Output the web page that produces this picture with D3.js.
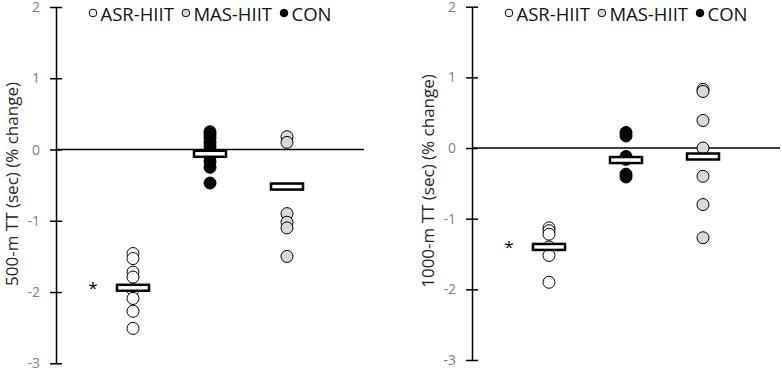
<!doctype html>
<html lang="en">
<head>
<meta charset="utf-8">
<title>TT % change</title>
<script src="https://d3js.org/d3.v7.min.js"></script>
<style>
  body { margin: 0; background: #fff; }
  text { font-family: "Open Sans", sans-serif; }
</style>
</head>
<body>
<script>
// groups in plotting order (left to right)
const groups = ["ASR-HIIT", "CON", "MAS-HIIT"];
const legendOrder = ["ASR-HIIT", "MAS-HIIT", "CON"];
const yTicks = [2, 1, 0, -1, -2, -3];

// 500-m TT (% change), individual values
const tt500ASR = [-1.46, -1.53, -1.72, -1.79, -1.97, -2.09, -2.27, -2.51];
const tt500CON = [0.25, 0.21, 0.16, 0.1, 0.04, -0.1, -0.17, -0.25, -0.47];
const tt500MAS = [0.18, 0.1, -0.9, -1.02, -1.1, -1.5];
const tt500Mean = [-1.94, -0.06, -0.52];

// 1000-m TT (% change), individual values
const tt1000ASR = [-1.13, -1.17, -1.22, -1.40, -1.52, -1.90];
const tt1000CON = [0.22, 0.17, -0.12, -0.16, -0.37, -0.41];
const tt1000MAS = [0.83, 0.80, 0.39, 0.0, -0.40, -0.80, -1.27];
const tt1000Mean = [-1.40, -0.17, -0.12];

const fills = { "ASR-HIIT": "#ffffff", "MAS-HIIT": "#d9d9d9", "CON": "#000000" };

const svg = d3.select("body").append("svg")
    .attr("width", 782)
    .attr("height", 370);

function drawPanel(opt) {
    const y = d3.scaleLinear().domain([-3, 2]).range([opt.bottom, opt.top]);
    const x = d3.scalePoint().domain(groups).range([opt.axisX + 77, opt.axisX + 231]);
    const g = svg.append("g");

    // zero line
    g.append("line")
        .attr("x1", opt.axisX).attr("x2", opt.axisX + 308)
        .attr("y1", y(0)).attr("y2", y(0))
        .attr("stroke", "#000").attr("stroke-width", 1.3);

    // y axis, ticks crossing the line
    const ax = g.append("g")
        .attr("transform", "translate(" + opt.axisX + ",0)")
        .call(d3.axisLeft(y).tickValues(yTicks)
            .tickFormat(function (d) { return String(d); })
            .tickSizeInner(6).tickSizeOuter(0).tickPadding(10));
    ax.select(".domain").attr("stroke", "#000").attr("stroke-width", 1.5);
    ax.selectAll(".tick line").attr("x1", 6).attr("stroke", "#000").attr("stroke-width", 1.5);
    ax.selectAll(".tick text")
        .attr("fill", "#808080")
        .style("font-size", "14px")
        .style("font-family", "'Open Sans', sans-serif");

    // axis title
    g.append("text")
        .attr("transform", "translate(" + (opt.axisX - 45) + "," + opt.labelY + ") rotate(-90)")
        .attr("text-anchor", "middle")
        .attr("dominant-baseline", "central")
        .attr("fill", "#262626")
        .style("font-size", "17px")
        .text(opt.title);

    // individual points
    groups.forEach(function (grp) {
        g.selectAll(null)
            .data(opt.values[grp])
            .enter()
            .append("circle")
            .attr("cx", x(grp))
            .attr("cy", function (d) { return y(d); })
            .attr("r", 6)
            .attr("fill", fills[grp])
            .attr("stroke", "#000")
            .attr("stroke-width", 1);
    });

    // group means
    g.selectAll(null)
        .data(opt.means)
        .enter()
        .append("rect")
        .attr("x", function (d, i) { return x(groups[i]) - 16; })
        .attr("y", function (d) { return y(d) - 3; })
        .attr("width", 32)
        .attr("height", 6)
        .attr("fill", "#fff")
        .attr("stroke", "#000")
        .attr("stroke-width", 2.5);

    // significance mark
    g.append("text")
        .attr("x", x("ASR-HIIT") - 40)
        .attr("y", y(opt.means[0]))
        .attr("text-anchor", "middle")
        .attr("dominant-baseline", "central")
        .attr("fill", "#000")
        .style("font-size", "17px")
        .text("*");

    // legend
    const leg = g.append("g").attr("transform", "translate(" + (opt.axisX + 37) + ",13)");
    let pos = 0;
    legendOrder.forEach(function (grp) {
        leg.append("circle")
            .attr("cx", pos).attr("cy", 0).attr("r", 3.8)
            .attr("fill", fills[grp]).attr("stroke", "#000").attr("stroke-width", 1);
        const t = leg.append("text")
            .attr("x", pos + 7.5).attr("y", 0)
            .attr("dominant-baseline", "central")
            .attr("fill", "#111")
            .style("font-size", "18.5px")
            .text(grp);
        pos += 7.5 + t.node().getComputedTextLength() + 12;
    });
}

drawPanel({
    axisX: 56, top: 7, bottom: 363.3, labelY: 184,
    title: "500-m TT (sec) (% change)",
    values: { "ASR-HIIT": tt500ASR, "CON": tt500CON, "MAS-HIIT": tt500MAS },
    means: tt500Mean
});

drawPanel({
    axisX: 472, top: 6.7, bottom: 360, labelY: 181,
    title: "1000-m TT (sec) (% change)",
    values: { "ASR-HIIT": tt1000ASR, "CON": tt1000CON, "MAS-HIIT": tt1000MAS },
    means: tt1000Mean
});
</script>
</body>
</html>
